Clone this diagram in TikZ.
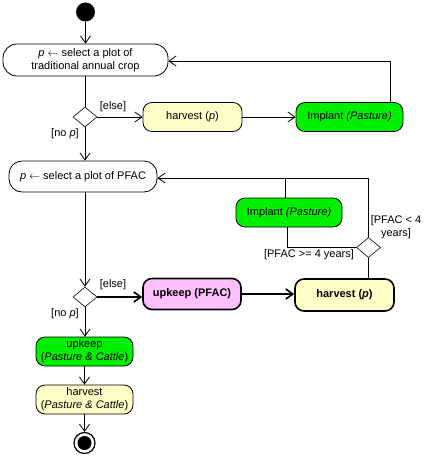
\documentclass[tikz,border=0pt]{standalone}
\usepackage{fontspec}
\setmainfont{Liberation Sans}
\usepackage{xcolor}
\usepackage{tikz}
\usetikzlibrary{shapes.geometric,arrows.meta}
\definecolor{crop}{HTML}{FFFFFF}
\definecolor{pale}{HTML}{FFFFC8}
\definecolor{grass}{HTML}{00F000}
\definecolor{pink}{HTML}{FFC0FF}
\tikzset{
  act/.style={draw, line width=0.8pt, rounded corners=9pt, align=center,
    inner sep=1pt, font=\fontsize{11}{13}\selectfont},
  bold/.style={act, line width=1.6pt, font=\fontsize{11}{13}\selectfont\bfseries},
  choice/.style={diamond, draw, line width=0.6pt, fill=white, inner sep=0pt,
    minimum width=24pt, minimum height=20pt},
  guard/.style={font=\fontsize{11}{13}\selectfont, align=center, inner sep=0pt},
  flow/.style={draw, line width=0.8pt, -{Straight Barb[length=7pt,width=10pt]}},
  plain/.style={draw, line width=0.8pt},
  thick flow/.style={flow, line width=1.6pt}
}
\begin{document}
\begin{tikzpicture}[x=1pt,y=-1pt]
\useasboundingbox (0,0) rectangle (429,461);
% start and end
\node[circle, fill=black, minimum size=19pt, inner sep=0pt] (start) at (85.5,12) {};
\node[circle, draw, line width=1.2pt, fill=white, minimum size=21pt, inner sep=0pt] (stop) at (84.5,443) {};
\fill (stop.center) circle (7pt);

% traditional crop loop
\node[act, fill=crop, minimum width=165pt, minimum height=32pt, rounded corners=14pt] (selcrop) at (85.5,60)
  {\textit{p} $\leftarrow$ select a plot of\\traditional annual crop};
\node[choice] (pick1) at (85,117) {};
\node[act, fill=pale, minimum width=99pt, minimum height=29pt] (harv1) at (192.5,117) {harvest (\textit{p})};
\node[act, fill=grass, minimum width=107pt, minimum height=29pt] (impl1) at (349.5,117) {Implant \textit{(Pasture)}};

% PFAC loop
\node[act, fill=crop, minimum width=148pt, minimum height=31pt, rounded corners=13pt] (selpfac) at (83,176.5)
  {\textit{p} $\leftarrow$ select a plot of PFAC};
\node[act, fill=grass, minimum width=106pt, minimum height=29pt] (impl2) at (289,212.5) {Implant \textit{(Pasture)}};
\node[choice] (age) at (368.5,247.5) {};
\node[choice] (pick2) at (85,297) {};
\node[bold, fill=pink, minimum width=98pt, minimum height=31pt] (upk1) at (192,294) {upkeep (PFAC)};
\node[bold, fill=pale, minimum width=99pt, minimum height=32pt] (harv2) at (344.5,295) {harvest (\textit{p})};

% pasture and cattle
\node[act, fill=grass, minimum width=97pt, minimum height=29pt] (upkpc) at (84.5,351.5)
  {upkeep\\(\textit{Pasture \& Cattle})};
\node[act, fill=pale, minimum width=97pt, minimum height=29pt] (harvpc) at (84.5,399.5)
  {harvest\\(\textit{Pasture \& Cattle})};

% connectors
\draw[flow] (start) -- (selcrop);
\draw[plain] (selcrop.south -| pick1) -- (pick1.north);
\draw[flow] (pick1) -- (harv1);
\draw[flow] (harv1) -- (impl1);
\draw[flow] ([xshift=40.5pt]impl1.north) |- ([yshift=-1pt]selcrop.east);
\draw[flow] (pick1.south) -- (pick1.south |- selpfac.north);
\draw[flow] (selpfac.south -| pick2) -- (pick2.north);
\draw[thick flow] (pick2.east) -- (pick2.east -| upk1.west);
\draw[thick flow] (upk1) -- (upk1 -| harv2.west);
\draw[plain] (harv2.north -| age) -- (age.south);
\draw[flow] (age.north) |- ([yshift=-1.5pt]selpfac.east);
\draw[plain] (age.west) -| ([xshift=-2pt]impl2.south);
\draw[plain] ([xshift=-4pt]impl2.north) -- ([xshift=-4pt,yshift=-1.5pt]impl2.north |- selpfac.east);
\draw[flow] (pick2.south) -- (upkpc.north -| pick2);
\draw[flow] (upkpc) -- (harvpc);
\draw[flow] (harvpc) -- (stop);

% guards
\node[guard] (else1) at (113,107) {[else]};
\node[guard] (nop1) at (65,134) {[no \textit{p}]};
\node[guard] (young) at (396,227) {[PFAC < 4\\years]};
\node[guard] (old) at (309,255) {[PFAC >= 4 years]};
\node[guard] (else2) at (113,285) {[else]};
\node[guard] (nop2) at (65,314) {[no \textit{p}]};
\end{tikzpicture}
\end{document}
